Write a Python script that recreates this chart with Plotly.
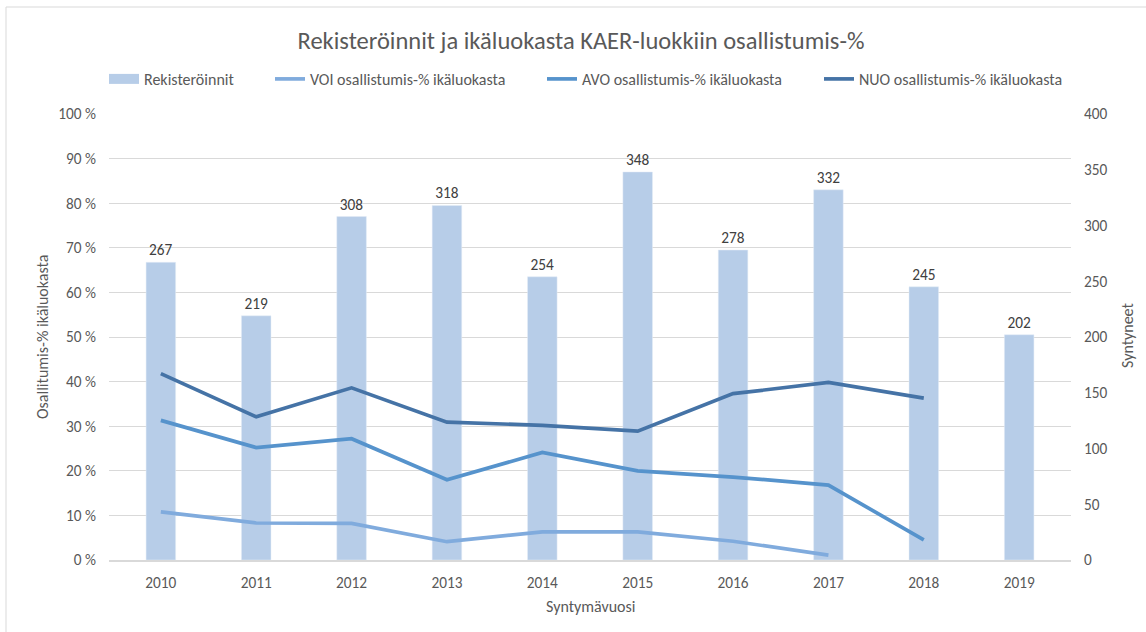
import plotly.graph_objects as go

years = ["2010", "2011", "2012", "2013", "2014", "2015", "2016", "2017", "2018", "2019"]
registrations = [267, 219, 308, 318, 254, 348, 278, 332, 245, 202]
voi = [10.8, 8.3, 8.2, 4.1, 6.3, 6.3, 4.2, 1.1, None, None]
avo = [31.3, 25.2, 27.2, 18.0, 24.1, 20.0, 18.6, 16.8, 4.5, None]
nuo = [41.8, 32.1, 38.6, 30.9, 30.2, 28.9, 37.3, 39.8, 36.3, None]

FONT = "Carlito, Liberation Sans Narrow, Liberation Sans, Arial, sans-serif"
GRAY = "#595959"
TICK = 15.3
BAR_COLOR = "#B7CDE8"

fig = go.Figure()
# invisible trace on base axis (percent axis, draws gridlines beneath everything)
fig.add_trace(go.Scatter(x=years, y=[None] * len(years), showlegend=False,
                         hoverinfo="skip", yaxis="y"))
fig.add_trace(go.Bar(
    x=years, y=registrations, name="Rekisteröinnit", yaxis="y2",
    marker=dict(color=BAR_COLOR), width=0.31,
    text=[str(v) for v in registrations], textposition="outside",
    textfont=dict(size=TICK, color="#404040", family=FONT),
    cliponaxis=False, showlegend=False, legendgroup="reg",
))
# legend swatch for the bars (rectangular, like the original)
fig.add_trace(go.Scatter(
    x=[None], y=[None], name="Rekisteröinnit", mode="lines", yaxis="y2",
    line=dict(color=BAR_COLOR, width=10), legend="legend", legendgroup="reg",
    hoverinfo="skip",
))
for name, vals, col, lg in [
    ("VOI osallistumis-% ikäluokasta", voi, "#80ABDD", "legend2"),
    ("AVO osallistumis-% ikäluokasta", avo, "#5693CC", "legend3"),
    ("NUO osallistumis-% ikäluokasta", nuo, "#4573A6", "legend4"),
]:
    fig.add_trace(go.Scatter(
        x=years, y=vals, name=name, mode="lines", yaxis="y3",
        line=dict(color=col, width=3.7), legend=lg,
    ))

W, L, R = 1146, 109, 1071
def px(x):
    return (x - L) / (R - L)

leg_common = dict(orientation="h", y=(560 - 79) / 446, yanchor="middle",
                  xanchor="left", bgcolor="rgba(0,0,0,0)",
                  font=dict(size=16, color=GRAY, family=FONT),
                  itemwidth=30, tracegroupgap=0)

fig.update_layout(
    width=1146, height=632,
    margin=dict(l=L, r=W - R, t=114, b=72, autoexpand=False),
    paper_bgcolor="white", plot_bgcolor="white",
    font=dict(family=FONT, color=GRAY, size=TICK),
    title=dict(text="Rekisteröinnit ja ikäluokasta KAER-luokkiin osallistumis-%",
               x=(581 - L) / (R - L), xref="paper", xanchor="center",
               y=1 - 40 / 632, yanchor="middle",
               font=dict(size=24.5, color=GRAY, family=FONT)),
    bargap=0.69,
    xaxis=dict(type="category", showgrid=False, showline=True, linecolor="#D9D9D9",
               linewidth=1.5, ticks="", ticklabelstandoff=8,
               tickfont=dict(size=TICK, color=GRAY)),
    yaxis=dict(range=[0, 100], dtick=10, ticksuffix=" %", showgrid=True,
               gridcolor="#D9D9D9", gridwidth=1, zeroline=False, showline=False,
               ticks="", ticklabelstandoff=12, tickfont=dict(size=TICK, color=GRAY)),
    yaxis2=dict(range=[0, 400], dtick=50, overlaying="y", side="right",
                showgrid=False, zeroline=False, showline=False, ticks="",
                ticklabelstandoff=12, tickfont=dict(size=TICK, color=GRAY)),
    yaxis3=dict(range=[0, 100], overlaying="y", side="left", visible=False,
                showgrid=False, zeroline=False),
    legend=dict(x=px(104), **leg_common),
    legend2=dict(x=px(270), **leg_common),
    legend3=dict(x=px(542), **leg_common),
    legend4=dict(x=px(819), **leg_common),
    showlegend=True,
    annotations=[
        dict(text="Osallitumis-% ikäluokasta", xref="paper", yref="paper",
             x=px(42), y=0.5, textangle=-90, showarrow=False,
             xanchor="center", yanchor="middle",
             font=dict(size=16, color=GRAY, family=FONT)),
        dict(text="Syntyneet", xref="paper", yref="paper",
             x=px(1127), y=(560 - 335) / 446, textangle=-90, showarrow=False,
             xanchor="center", yanchor="middle",
             font=dict(size=16, color=GRAY, family=FONT)),
        dict(text="Syntymävuosi", xref="paper", yref="paper",
             x=0.5, y=(560 - 606) / 446, showarrow=False,
             xanchor="center", yanchor="middle",
             font=dict(size=16, color=GRAY, family=FONT)),
    ],
    shapes=[dict(type="rect", xref="paper", yref="paper",
                 x0=px(6), x1=px(1160), y0=(560 - 650) / 446, y1=(560 - 7) / 446,
                 line=dict(color="#D9D9D9", width=1), fillcolor="rgba(0,0,0,0)",
                 layer="below")],
)

fig.write_html("out.html", config={"displayModeBar": False},
               post_script="document.body.style.margin='0';")
